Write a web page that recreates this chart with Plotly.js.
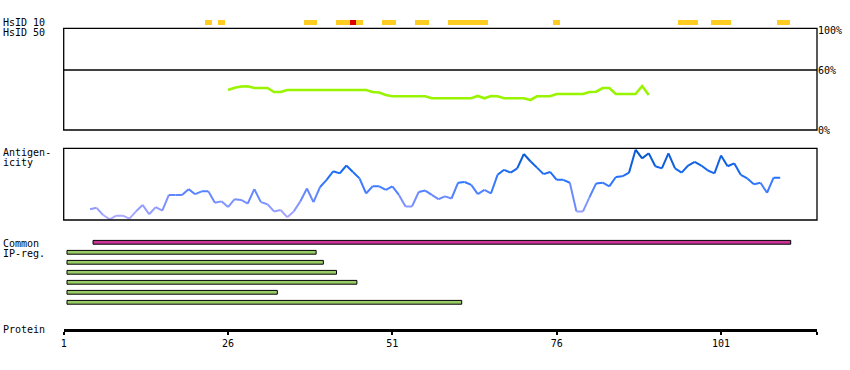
<!DOCTYPE html>
<html><head><meta charset="utf-8">
<script src="https://cdn.plot.ly/plotly-3.0.1.min.js"></script>
<style>body{margin:0;background:#fff}#chart{width:850px;height:370px}</style>
</head><body><div id="chart"></div>
<script>
// ---- data ----
const proteinTicks = [1, 26, 51, 76, 101];
const proteinEnd = 115.6;

const hsid10Residues = [23,25,38,39,43,44,45,46,50,51,55,56,60,61,62,63,64,65,76,95,96,97,100,101,102,110,111];
const hsid10Red = [45];

const hsid50Start = 26;
const hsid50Values = [40,42.3,43.5,43.7,42,42,42,38,38,40,
  40,40,40,40,40,40,40,40,40,40,40,40,
  38,37.5,35,33.7,
  33.7,33.7,33.7,33.7,33.7,
  31.7,31.7,31.7,31.7,31.7,31.7,31.7,
  34,31.7,34,33.7,
  31.7,31.7,31.7,31.7,
  30,
  33.7,33.7,33.7,
  36,36,36,36,36,
  38,38.3,42,42,
  36,36,36,36,
  44,35];
const hsidTickVals = [0, 60, 100];
const hsidTickText = ['0%', '60%', '100%'];

const antigenStart = 5;
const antigenValues = [0.15,0.17,0.07,0.01,0.06,0.06,0.02,0.12,0.21,0.08,
  0.18,0.13,0.35,0.35,0.35,0.43,0.36,0.40,0.40,0.24,
  0.26,0.18,0.29,0.28,0.23,0.43,0.25,0.22,0.12,0.14,
  0.04,0.12,0.26,0.44,0.25,0.46,0.56,0.68,0.65,0.76,
  0.67,0.58,0.37,0.47,0.47,0.42,0.47,0.35,0.19,0.19,
  0.39,0.41,0.35,0.29,0.33,0.30,0.52,0.53,0.49,0.36,
  0.42,0.37,0.63,0.70,0.66,0.72,0.92,0.82,0.73,0.64,
  0.67,0.56,0.56,0.52,0.12,0.12,0.32,0.51,0.52,0.47,
  0.60,0.61,0.66,0.98,0.86,0.93,0.75,0.72,0.93,0.72,
  0.66,0.76,0.81,0.76,0.69,0.65,0.90,0.75,0.79,0.63,
  0.58,0.50,0.52,0.38,0.59,0.59];

const ipStarts = [5.46, 1.5, 1.5, 1.5, 1.5, 1.5, 1.5];
const ipEnds   = [111.6, 39.4, 40.5, 42.5, 45.6, 33.5, 61.55];
const ipKinds  = ['common','ip','ip','ip','ip','ip','ip'];

// ---- helpers ----
const H = 370, W = 850;
const py = p => 1 - p / H;
const FONT = {family: 'DejaVu Sans Mono, monospace', size: 10, color: '#000'};

const colorStops = [[0,[180,172,255]],[0.3,[112,140,255]],[0.55,[40,115,255]],[0.75,[18,100,232]],[1,[0,80,190]]];
function antiColor(v){
  for (let i=1;i<colorStops.length;i++){
    if (v <= colorStops[i][0]){
      const [a, ca] = colorStops[i-1], [b, cb] = colorStops[i];
      const t = (v-a)/(b-a);
      const c = ca.map((x,k)=>Math.round(x+(cb[k]-x)*t));
      return `rgb(${c[0]},${c[1]},${c[2]})`;
    }
  }
  return 'rgb(0,80,190)';
}

const traces = [];

// HsID 10 bars
traces.push({
  type: 'bar', x: hsid10Residues, y: hsid10Residues.map(()=>1), width: hsid10Residues.map(()=>1),
  marker: {color: hsid10Residues.map(r => hsid10Red.includes(r) ? '#e00000' : '#ffcc22'), line: {width: 0}},
  xaxis: 'x', yaxis: 'y2', hoverinfo: 'skip', showlegend: false
});

// HsID 50 line
traces.push({
  type: 'scatter', mode: 'lines',
  x: hsid50Values.map((_, i) => hsid50Start + i), y: hsid50Values,
  line: {color: '#99f400', width: 2.6}, xaxis: 'x', yaxis: 'y', hoverinfo: 'skip', showlegend: false
});

// Antigenicity: coloured segments
for (let i = 0; i < antigenValues.length - 1; i++){
  const v = (antigenValues[i] + antigenValues[i+1]) / 2;
  traces.push({
    type: 'scatter', mode: 'lines',
    x: [antigenStart + i, antigenStart + i + 1], y: [antigenValues[i], antigenValues[i+1]],
    line: {color: antiColor(v), width: 2}, xaxis: 'x', yaxis: 'y3', hoverinfo: 'skip', showlegend: false
  });
}

// IP-reg bars
traces.push({
  type: 'bar', orientation: 'h',
  y: ipStarts.map((_, i) => i), base: ipStarts, x: ipEnds.map((e, i) => e - ipStarts[i]),
  width: ipStarts.map(() => 0.38),
  marker: {color: ipKinds.map(k => k === 'common' ? '#cc3399' : '#99cc66'), line: {color: '#000', width: 1}},
  xaxis: 'x', yaxis: 'y4', hoverinfo: 'skip', showlegend: false
});

const hidden = {visible: false, fixedrange: true};

const layout = {
  width: W, height: H, margin: {l: 0, r: 0, t: 0, b: 0},
  paper_bgcolor: '#fff', plot_bgcolor: 'rgba(0,0,0,0)',
  font: FONT, showlegend: false, bargap: 0,
  xaxis: {
    domain: [63.7/W, 817/W], range: [1, proteinEnd], anchor: 'free', position: py(329.5),
    showline: true, linewidth: 3, linecolor: '#000', showgrid: false, zeroline: false,
    ticks: 'outside', ticklen: 3, tickwidth: 2, tickcolor: '#000',
    tickvals: proteinTicks.concat([proteinEnd]), ticktext: proteinTicks.map(String).concat(['']),
    tickfont: FONT
  },
  yaxis: {
    domain: [py(130), py(28.3)], range: [0, 101.7], anchor: 'x', side: 'right',
    showline: false, showgrid: false, zeroline: false, ticks: '',
    tickvals: hsidTickVals, ticktext: hsidTickText, tickfont: FONT
  },
  yaxis2: Object.assign({domain: [py(25), py(20)], range: [0, 1], anchor: 'x'}, hidden),
  yaxis3: Object.assign({domain: [py(220), py(148.3)], range: [0, 1], anchor: 'x'}, hidden),
  yaxis4: Object.assign({domain: [py(307.3), py(237.3)], range: [6.5, -0.5], anchor: 'x'}, hidden),
  shapes: [
    {type: 'rect', xref: 'x domain', yref: 'y domain', x0: 0, x1: 1, y0: 0, y1: 1, line: {color: '#000', width: 1.3}},
    {type: 'line', xref: 'x domain', yref: 'y', x0: 0, x1: 1, y0: 60, y1: 60, line: {color: '#000', width: 1.3}},
    {type: 'rect', xref: 'x domain', yref: 'y3 domain', x0: 0, x1: 1, y0: 0, y1: 1, line: {color: '#000', width: 1.3}}
  ],
  annotations: [
    ['HsID 10', 22.7], ['HsID 50', 32.7], ['Antigen-', 152.7], ['icity', 162.7],
    ['Common', 243.3], ['IP-reg.', 253.3], ['Protein', 329.3]
  ].map(([t, y]) => ({text: t, x: 1/W, y: py(y), xref: 'paper', yref: 'paper',
    xanchor: 'left', yanchor: 'middle', showarrow: false, font: FONT}))
};

Plotly.newPlot('chart', traces, layout, {staticPlot: true, displayModeBar: false});
</script>
</body></html>
